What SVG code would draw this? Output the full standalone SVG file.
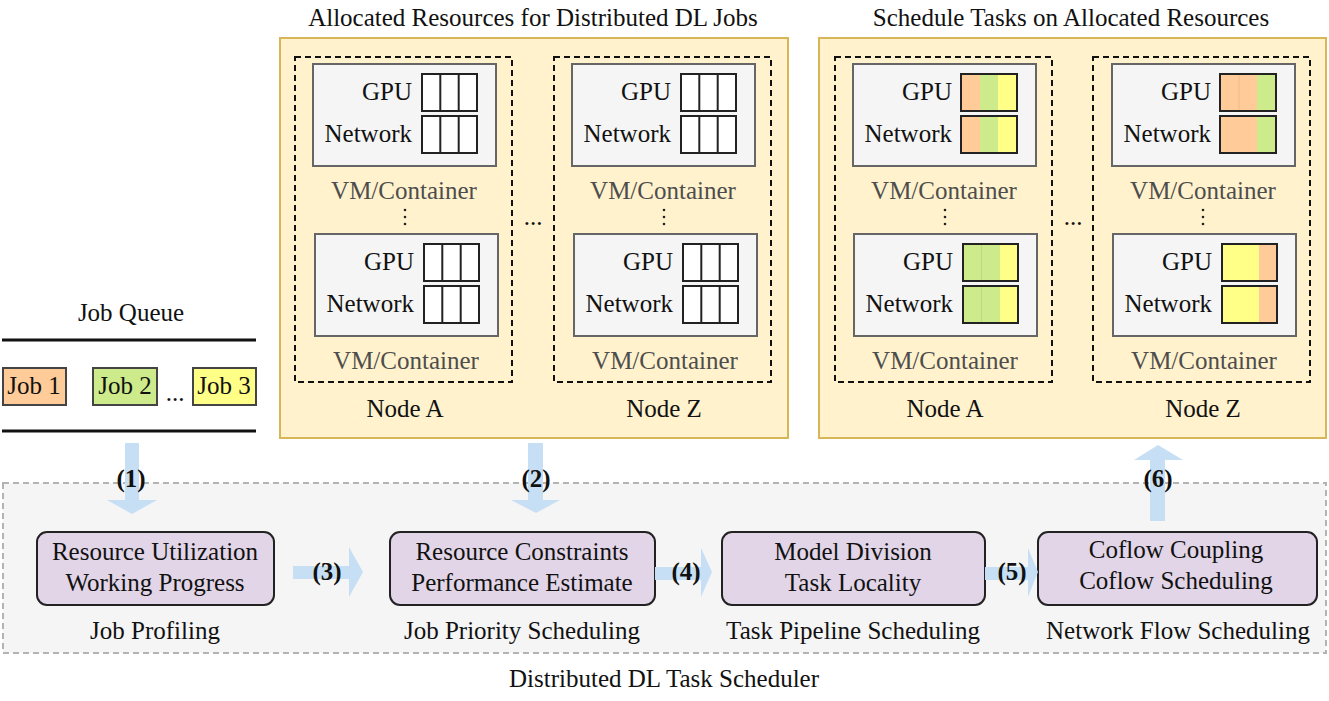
<svg xmlns="http://www.w3.org/2000/svg" width="1329" height="701" viewBox="0 0 1329 701">
<defs>
<style>
text{font-family:"Liberation Serif","Times New Roman",serif;font-size:25px;fill:#111}
.c{text-anchor:middle}
.r{text-anchor:end}
.g{fill:#4d4d4d}
.b{font-weight:bold;font-size:25px}
.panel{fill:#fff2cc;stroke:#d6b656;stroke-width:2}
.node{fill:none;stroke:#111;stroke-width:2;stroke-dasharray:6 4}
.vm{fill:#f5f5f5;stroke:#666;stroke-width:2}
.cell{fill:none;stroke:#222;stroke-width:2}
.w{fill:#fff}
.o{fill:#ffcc99}
.gr{fill:#cdeb8b}
.y{fill:#ffff88}
.fl{stroke:#000;stroke-opacity:0.08;stroke-width:1}
.proc{fill:#e1d5e7;stroke:#222;stroke-width:2}
.arr{fill:#c7dff5}
.job{stroke:#444;stroke-width:2}
.dot{fill:#222}
</style>
<g id="vmEmpty">
<rect class="vm" x="0" y="0" width="183" height="102"/>
<text class="r" x="99" y="36">GPU</text>
<text class="r" x="99" y="78">Network</text>
<rect class="w" x="109" y="10" width="55" height="37"/>
<rect class="w" x="109" y="52" width="55" height="37"/>
<line x1="127.3" y1="10" x2="127.3" y2="47" stroke="#222" stroke-width="2"/>
<line x1="145.7" y1="10" x2="145.7" y2="47" stroke="#222" stroke-width="2"/>
<line x1="127.3" y1="52" x2="127.3" y2="89" stroke="#222" stroke-width="2"/>
<line x1="145.7" y1="52" x2="145.7" y2="89" stroke="#222" stroke-width="2"/>
<rect class="cell" x="109" y="10" width="55" height="37"/>
<rect class="cell" x="109" y="52" width="55" height="37"/>
<text class="c g" x="91" y="135">VM/Container</text>
</g>
</defs>
<rect width="1329" height="701" fill="#fff"/>

<g id="scheduler">
<rect x="3" y="483" width="1323" height="170" fill="#f5f5f5" stroke="#b3b3b3" stroke-width="2" stroke-dasharray="6 4"/>
<text class="c" x="664" y="687">Distributed DL Task Scheduler</text>
</g>

<g id="job-queue">
<text class="c" x="131" y="321">Job Queue</text>
<line x1="2" y1="340" x2="256" y2="340" stroke="#111" stroke-width="3"/>
<line x1="2" y1="431" x2="256" y2="431" stroke="#111" stroke-width="3"/>
<g id="job1"><rect class="job o" x="3" y="368" width="63" height="37"/><text class="c" x="34" y="394">Job 1</text></g>
<g id="job2"><rect class="job gr" x="93" y="368" width="64" height="37"/><text class="c" x="125" y="394">Job 2</text></g>
<text class="c" x="175" y="401">...</text>
<g id="job3"><rect class="job y" x="193" y="368" width="63" height="37"/><text class="c" x="224" y="394">Job 3</text></g>
</g>

<g id="allocated-panel">
<rect class="panel" x="280" y="38" width="508" height="400"/>
<text class="c" x="533" y="26">Allocated Resources for Distributed DL Jobs</text>
<g id="alloc-nodeA">
<rect class="node" x="295" y="57" width="217" height="325"/>
<use href="#vmEmpty" x="313" y="64"/>
<circle class="dot" cx="405" cy="210" r="1.3"/><circle class="dot" cx="405" cy="217" r="1.3"/><circle class="dot" cx="405" cy="224" r="1.3"/>
<use href="#vmEmpty" x="315" y="234"/>
<text class="c" x="405" y="417">Node A</text>
</g>
<text class="c" x="533" y="225">...</text>
<g id="alloc-nodeZ">
<rect class="node" x="554" y="57" width="217" height="325"/>
<use href="#vmEmpty" x="572" y="64"/>
<circle class="dot" cx="664" cy="210" r="1.3"/><circle class="dot" cx="664" cy="217" r="1.3"/><circle class="dot" cx="664" cy="224" r="1.3"/>
<use href="#vmEmpty" x="574" y="234"/>
<text class="c" x="664" y="417">Node Z</text>
</g>
</g>

<g id="schedule-panel">
<rect class="panel" x="819" y="38" width="507" height="400"/>
<text class="c" x="1071" y="26">Schedule Tasks on Allocated Resources</text>
<g id="sched-nodeA">
<rect class="node" x="835" y="57" width="217" height="325"/>
<g transform="translate(853,64)">
<rect class="vm" x="0" y="0" width="183" height="102"/>
<text class="r" x="99" y="36">GPU</text>
<text class="r" x="99" y="78">Network</text>
<rect class="o" x="108" y="10" width="19" height="37"/><rect class="gr" x="127" y="10" width="18" height="37"/><rect class="y" x="145" y="10" width="19" height="37"/>
<rect class="o" x="108" y="52" width="19" height="37"/><rect class="gr" x="127" y="52" width="18" height="37"/><rect class="y" x="145" y="52" width="19" height="37"/>
<rect class="cell" x="108" y="10" width="56" height="37"/><rect class="cell" x="108" y="52" width="56" height="37"/>
<text class="c g" x="91" y="135">VM/Container</text>
</g>
<circle class="dot" cx="945" cy="210" r="1.3"/><circle class="dot" cx="945" cy="217" r="1.3"/><circle class="dot" cx="945" cy="224" r="1.3"/>
<g transform="translate(854,234)">
<rect class="vm" x="0" y="0" width="183" height="102"/>
<text class="r" x="99" y="36">GPU</text>
<text class="r" x="99" y="78">Network</text>
<rect class="gr" x="109" y="10" width="37" height="37"/><rect class="y" x="146" y="10" width="18" height="37"/>
<rect class="gr" x="109" y="52" width="37" height="37"/><rect class="y" x="146" y="52" width="18" height="37"/>
<line class="fl" x1="127.5" y1="10" x2="127.5" y2="47"/><line class="fl" x1="127.5" y1="52" x2="127.5" y2="89"/>
<rect class="cell" x="109" y="10" width="55" height="37"/><rect class="cell" x="109" y="52" width="55" height="37"/>
<text class="c g" x="91" y="135">VM/Container</text>
</g>
<text class="c" x="945" y="417">Node A</text>
</g>
<text class="c" x="1073" y="225">...</text>
<g id="sched-nodeZ">
<rect class="node" x="1093" y="57" width="217" height="325"/>
<g transform="translate(1112,64)">
<rect class="vm" x="0" y="0" width="183" height="102"/>
<text class="r" x="99" y="36">GPU</text>
<text class="r" x="99" y="78">Network</text>
<rect class="o" x="108" y="10" width="37" height="37"/><rect class="gr" x="145" y="10" width="19" height="37"/>
<rect class="o" x="108" y="52" width="37" height="37"/><rect class="gr" x="145" y="52" width="19" height="37"/>
<line class="fl" x1="127" y1="10" x2="127" y2="47"/>
<rect class="cell" x="108" y="10" width="56" height="37"/><rect class="cell" x="108" y="52" width="56" height="37"/>
<text class="c g" x="91" y="135">VM/Container</text>
</g>
<circle class="dot" cx="1203" cy="210" r="1.3"/><circle class="dot" cx="1203" cy="217" r="1.3"/><circle class="dot" cx="1203" cy="224" r="1.3"/>
<g transform="translate(1113,234)">
<rect class="vm" x="0" y="0" width="183" height="102"/>
<text class="r" x="99" y="36">GPU</text>
<text class="r" x="99" y="78">Network</text>
<rect class="y" x="109" y="10" width="37" height="37"/><rect class="o" x="146" y="10" width="18" height="37"/>
<rect class="y" x="109" y="52" width="37" height="37"/><rect class="o" x="146" y="52" width="18" height="37"/>
<rect class="cell" x="109" y="10" width="55" height="37"/><rect class="cell" x="109" y="52" width="55" height="37"/>
<text class="c g" x="91" y="135">VM/Container</text>
</g>
<text class="c" x="1203" y="417">Node Z</text>
</g>
</g>

<g id="proc-profiling">
<rect class="proc" x="37" y="532" width="237" height="73" rx="10"/>
<text class="c" x="155" y="560">Resource Utilization</text>
<text class="c" x="155" y="591">Working Progress</text>
<text class="c" x="155" y="639">Job Profiling</text>
</g>
<g id="proc-priority">
<rect class="proc" x="390" y="532" width="265" height="73" rx="10"/>
<text class="c" x="522" y="560">Resource Constraints</text>
<text class="c" x="522" y="591">Performance Estimate</text>
<text class="c" x="522" y="639">Job Priority Scheduling</text>
</g>
<g id="proc-pipeline">
<rect class="proc" x="722" y="532" width="263" height="73" rx="10"/>
<text class="c" x="853" y="560">Model Division</text>
<text class="c" x="853" y="591">Task Locality</text>
<text class="c" x="853" y="639">Task Pipeline Scheduling</text>
</g>
<g id="proc-network">
<rect class="proc" x="1038" y="532" width="279" height="73" rx="10"/>
<text class="c" x="1176" y="558">Coflow Coupling</text>
<text class="c" x="1176" y="589">Coflow Scheduling</text>
<text class="c" x="1178" y="639">Network Flow Scheduling</text>
</g>

<g id="connectors">
<polygon class="arr" points="125,443 139,443 139,500 157,500 132,514 107,500 125,500"/>
<text class="c b" x="131" y="487">(1)</text>
<polygon class="arr" points="528,443 543,443 543,500 560,500 536,513 511,500 528,500"/>
<text class="c b" x="536" y="487">(2)</text>
<polygon class="arr" points="293,566 349,566 349,547 363,572 349,597 349,579 293,579"/>
<text class="c b" x="327" y="580">(3)</text>
<polygon class="arr" points="655,567 701,567 701,548 712,572 701,597 701,580 655,580"/>
<text class="c b" x="686" y="580">(4)</text>
<polygon class="arr" points="985,567 1028,567 1028,548 1038,572 1028,597 1028,580 985,580"/>
<text class="c b" x="1012" y="580">(5)</text>
<polygon class="arr" points="1150,521 1165,521 1165,460 1183,460 1158,445 1134,460 1150,460"/>
<text class="c b" x="1158" y="487">(6)</text>
</g>
</svg>
